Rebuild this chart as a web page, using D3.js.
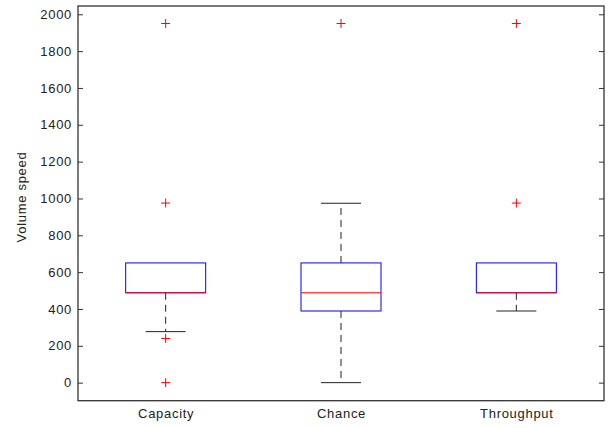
<!DOCTYPE html>
<html>
<head>
<meta charset="utf-8">
<script src="https://cdn.jsdelivr.net/npm/d3@7"></script>
<style>
  body { margin: 0; background: #fff; }
  text { font-family: "Liberation Sans", Arial, sans-serif; }
</style>
</head>
<body>
<div id="chart"></div>
<script>
var categories = ["Capacity", "Chance", "Throughput"];
var q1 = [488, 389, 488];
var median = [488, 488, 488];
var q3 = [650, 650, 650];
var whiskerLow = [277, 0, 389];
var whiskerHigh = [650, 974, 650];
var outliers = [[1950, 975, 240, 0], [1950], [1950, 975]];
var yTicks = [0, 200, 400, 600, 800, 1000, 1200, 1400, 1600, 1800, 2000];

// Set up: plot box in page pixels
var margin = { top: 6, right: 9, bottom: 27.3, left: 78 },
    width = 613 - margin.left - margin.right,
    height = 428 - margin.top - margin.bottom;

var svg = d3.select("#chart").append("svg")
    .attr("width", 613)
    .attr("height", 428)
    .append("g")
    .attr("transform", "translate(" + margin.left + "," + margin.top + ")");

var xScale = d3.scaleLinear().domain([0.5, 3.5]).range([0, width]);
var yScale = d3.scaleLinear().domain([-98, 2045]).range([height, 0]);

var boxW = 80, capW = 40;
var axisColor = "#333";

var data = categories.map(function (c, i) {
    return { name: c, pos: i + 1, q1: q1[i], med: median[i], q3: q3[i],
             lo: whiskerLow[i], hi: whiskerHigh[i], out: outliers[i] };
});

// axes
var yAxis = d3.axisLeft(yScale).tickValues(yTicks).tickSizeInner(-5).tickSizeOuter(0)
    .tickPadding(6).tickFormat(d3.format("d"));
var yAxisR = d3.axisRight(yScale).tickValues(yTicks).tickSizeInner(-5).tickSizeOuter(0).tickFormat("");
var xAxis = d3.axisBottom(xScale).tickValues([1, 2, 3]).tickSize(0).tickPadding(8)
    .tickFormat(function (d) { return categories[d - 1]; });

svg.append("g").attr("class", "y axis").call(yAxis);
svg.append("g").attr("class", "y axis").attr("transform", "translate(" + width + ",0)").call(yAxisR);
svg.append("g").attr("class", "x axis").attr("transform", "translate(0," + height + ")").call(xAxis);

svg.selectAll(".axis .domain").remove();
svg.selectAll(".axis line").attr("stroke", axisColor);
svg.selectAll(".axis text")
    .attr("fill", "#222")
    .style("font-size", "13px")
    .style("letter-spacing", "0.7px");

svg.append("rect")
    .attr("x", 0).attr("y", 0)
    .attr("width", width).attr("height", height)
    .attr("fill", "none")
    .attr("stroke", axisColor)
    .attr("stroke-width", 1.3);

// y label
svg.append("text")
    .attr("transform", "translate(" + (21 - margin.left) + "," + (197 - margin.top) + ") rotate(-90)")
    .attr("text-anchor", "middle")
    .attr("dy", "0.35em")
    .attr("fill", "#222")
    .style("font-size", "13px")
    .style("letter-spacing", "0.7px")
    .text("Volume speed");

var g = svg.selectAll(".box").data(data).enter().append("g").attr("class", "box");

// whiskers (only where they stick out of the box)
var upper = g.filter(function (d) { return d.hi > d.q3; });
var lower = g.filter(function (d) { return d.lo < d.q1; });

upper.append("line")
    .attr("x1", function (d) { return xScale(d.pos); })
    .attr("x2", function (d) { return xScale(d.pos); })
    .attr("y1", function (d) { return yScale(d.q3); })
    .attr("y2", function (d) { return yScale(d.hi); })
    .attr("stroke", "#222").attr("stroke-dasharray", "7,5");
lower.append("line")
    .attr("x1", function (d) { return xScale(d.pos); })
    .attr("x2", function (d) { return xScale(d.pos); })
    .attr("y1", function (d) { return yScale(d.q1); })
    .attr("y2", function (d) { return yScale(d.lo); })
    .attr("stroke", "#222").attr("stroke-dasharray", "7,5");

// caps
upper.append("line")
    .attr("x1", function (d) { return xScale(d.pos) - capW / 2; })
    .attr("x2", function (d) { return xScale(d.pos) + capW / 2; })
    .attr("y1", function (d) { return yScale(d.hi); })
    .attr("y2", function (d) { return yScale(d.hi); })
    .attr("stroke", "#222");
lower.append("line")
    .attr("x1", function (d) { return xScale(d.pos) - capW / 2; })
    .attr("x2", function (d) { return xScale(d.pos) + capW / 2; })
    .attr("y1", function (d) { return yScale(d.lo); })
    .attr("y2", function (d) { return yScale(d.lo); })
    .attr("stroke", "#222");

// boxes
g.append("rect")
    .attr("x", function (d) { return xScale(d.pos) - boxW / 2; })
    .attr("y", function (d) { return yScale(d.q3); })
    .attr("width", boxW)
    .attr("height", function (d) { return yScale(d.q1) - yScale(d.q3); })
    .attr("fill", "none")
    .attr("stroke", "#0000ff");

// medians
g.append("line")
    .attr("x1", function (d) { return xScale(d.pos) - boxW / 2; })
    .attr("x2", function (d) { return xScale(d.pos) + boxW / 2; })
    .attr("y1", function (d) { return yScale(d.med); })
    .attr("y2", function (d) { return yScale(d.med); })
    .attr("stroke", "#ff0000");

// outliers
var pts = [];
data.forEach(function (d) { d.out.forEach(function (v) { pts.push({ pos: d.pos, v: v }); }); });
var plus = svg.selectAll(".out").data(pts).enter().append("g").attr("class", "out")
    .attr("transform", function (d) { return "translate(" + xScale(d.pos) + "," + yScale(d.v) + ")"; });
plus.append("line").attr("x1", -4.5).attr("x2", 4.5).attr("y1", 0).attr("y2", 0).attr("stroke", "#ff0000");
plus.append("line").attr("x1", 0).attr("x2", 0).attr("y1", -4.5).attr("y2", 4.5).attr("stroke", "#ff0000");
</script>
</body>
</html>
